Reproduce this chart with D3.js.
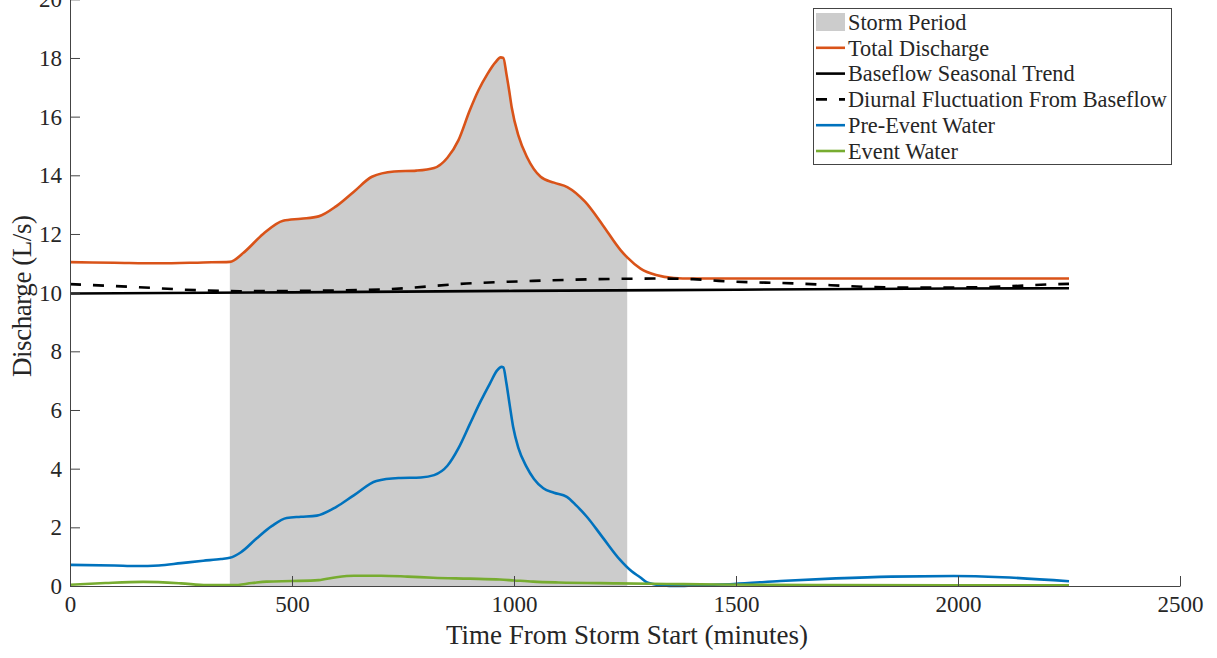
<!DOCTYPE html>
<html>
<head>
<meta charset="utf-8">
<script src="https://cdn.jsdelivr.net/npm/d3@7"></script>
<style>
  body { margin: 0; background: #fff; }
  svg { display: block; font-family: 'Liberation Serif', 'Times New Roman', serif; }
  svg text { font-family: 'Liberation Serif', 'Times New Roman', serif; }
</style>
</head>
<body>
<div id="vis"></div>
<script>
// minutes from storm start / discharge in L/s
var totalT = [0, 100, 200, 300, 360, 390, 435, 480, 520, 560, 600, 640, 680, 730, 780, 820, 850, 875, 900, 920, 940, 958, 970, 976, 983, 989, 995, 1010, 1030, 1060, 1090, 1120, 1160, 1200, 1240, 1255, 1285, 1320, 1360, 1400, 1500, 1750, 2000, 2250];
var totalQ = [11.04, 11.02, 11.0, 11.03, 11.05, 11.35, 12.0, 12.45, 12.52, 12.6, 12.95, 13.45, 13.95, 14.13, 14.16, 14.25, 14.6, 15.2, 16.2, 16.9, 17.45, 17.85, 18.02, 18.0, 17.45, 16.9, 16.3, 15.35, 14.6, 13.95, 13.75, 13.6, 13.1, 12.3, 11.45, 11.2, 10.82, 10.6, 10.5, 10.48, 10.48, 10.48, 10.48, 10.48];

var baseT = [0, 500, 1000, 1500, 2000, 2250];
var baseQ = [9.97, 10.01, 10.06, 10.1, 10.14, 10.15];

var diurnalT = [0, 150, 293, 383, 518, 705, 893, 1043, 1231, 1320, 1403, 1461, 1639, 1835, 1950, 2083, 2226, 2250];
var diurnalQ = [10.29, 10.19, 10.08, 10.05, 10.06, 10.11, 10.31, 10.4, 10.47, 10.48, 10.46, 10.4, 10.31, 10.18, 10.17, 10.2, 10.29, 10.3];

var preT = [0, 100, 150, 200, 250, 300, 340, 360, 385, 420, 455, 488, 520, 556, 600, 640, 690, 740, 790, 820, 850, 875, 900, 925, 946, 962, 972, 976, 983, 990, 998, 1010, 1028, 1045, 1066, 1090, 1119, 1140, 1164, 1200, 1239, 1265, 1284, 1300, 1330, 1370, 1420, 1495, 1600, 1725, 1850, 1990, 2100, 2250];
var preQ = [0.72, 0.7, 0.68, 0.7, 0.78, 0.86, 0.92, 0.96, 1.15, 1.62, 2.05, 2.32, 2.36, 2.4, 2.7, 3.1, 3.58, 3.68, 3.7, 3.78, 4.1, 4.7, 5.5, 6.3, 6.91, 7.35, 7.47, 7.45, 6.9, 6.2, 5.43, 4.7, 4.07, 3.65, 3.33, 3.18, 3.04, 2.75, 2.36, 1.65, 0.89, 0.5, 0.3, 0.12, 0.03, 0.0, 0.03, 0.07, 0.17, 0.26, 0.32, 0.34, 0.3, 0.16];

var eventT = [0, 80, 165, 250, 308, 367, 410, 443, 500, 560, 600, 640, 700, 760, 818, 900, 968, 1000, 1043, 1100, 1231, 1344, 1460, 1700, 1990, 2250];
var eventQ = [0.04, 0.1, 0.14, 0.09, 0.03, 0.03, 0.1, 0.15, 0.17, 0.2, 0.3, 0.35, 0.35, 0.32, 0.28, 0.25, 0.22, 0.19, 0.15, 0.12, 0.09, 0.07, 0.05, 0.03, 0.02, 0.02];

var stormStart = 360;
var stormEnd = 1255;

var xTicks = [0, 500, 1000, 1500, 2000, 2500];
var yTicks = [0, 2, 4, 6, 8, 10, 12, 14, 16, 18, 20];

var legendNames = ['Storm Period', 'Total Discharge', 'Baseflow Seasonal Trend', 'Diurnal Fluctuation From Baseflow', 'Pre-Event Water', 'Event Water'];

var width = 1217;
var height = 658;
var axisColor = '#444';
var textColor = '#262626';
var serif = "'Liberation Serif', 'Times New Roman', serif";

function pairs(ts, qs) {
  return ts.map(function (t, i) { return { t: t, q: qs[i] }; });
}

var svg = d3.select('#vis').append('svg')
  .attr('width', width)
  .attr('height', height);

var x = d3.scaleLinear().domain([0, 2500]).range([70, 1180]);
var y = d3.scaleLinear().domain([0, 20]).range([586, -0.7]);

var line = d3.line()
  .x(function (d) { return x(d.t); })
  .y(function (d) { return y(d.q); })
  .curve(d3.curveMonotoneX);

var totalData = pairs(totalT, totalQ);

// storm period: grey under the total discharge curve
var stormData = totalData.filter(function (d) { return d.t >= stormStart && d.t <= stormEnd; });
var area = d3.area()
  .x(function (d) { return x(d.t); })
  .y0(y(0))
  .y1(function (d) { return y(d.q); })
  .curve(d3.curveMonotoneX);

svg.append('path')
  .datum(stormData)
  .attr('d', area)
  .attr('fill', '#cccccc');

var series = [
  { data: totalData, color: '#D95319', dash: null },
  { data: pairs(baseT, baseQ), color: '#000', dash: null },
  { data: pairs(diurnalT, diurnalQ), color: '#000', dash: '11,12' },
  { data: pairs(preT, preQ), color: '#0072BD', dash: null },
  { data: pairs(eventT, eventQ), color: '#77AC30', dash: null }
];

series.forEach(function (s) {
  svg.append('path')
    .datum(s.data)
    .attr('d', line)
    .attr('fill', 'none')
    .attr('stroke', s.color)
    .attr('stroke-width', 2.6)
    .attr('stroke-dasharray', s.dash);
});

// axes (left and bottom only, ticks pointing in)
var xAxis = svg.append('g')
  .attr('transform', 'translate(0,' + y(0) + ')')
  .call(d3.axisBottom(x).tickValues(xTicks).tickFormat(d3.format('d')).tickSizeInner(-10).tickSizeOuter(0));

var yAxis = svg.append('g')
  .attr('transform', 'translate(' + x(0) + ',0)')
  .call(d3.axisLeft(y).tickValues(yTicks).tickFormat(d3.format('d')).tickSizeInner(-10).tickSizeOuter(0));

[xAxis, yAxis].forEach(function (ax) {
  ax.attr('font-family', serif).attr('font-size', 23);
  ax.select('.domain').attr('stroke', axisColor);
  ax.selectAll('.tick line').attr('stroke', axisColor);
  ax.selectAll('.tick text')
    .attr('fill', textColor)
    .attr('font-family', serif)
    .style('font-family', serif)
    .style('font-size', '23px');
});
yAxis.selectAll('.tick text').attr('x', -8);
xAxis.selectAll('.tick text').attr('y', 10).attr('dy', '0.71em');

svg.append('text')
  .attr('x', (x(0) + x(2500)) / 2 + 2)
  .attr('y', 644)
  .attr('text-anchor', 'middle')
  .attr('fill', textColor)
  .style('font-size', '27px')
  .text('Time From Storm Start (minutes)');

svg.append('text')
  .attr('transform', 'translate(31,' + 296 + ') rotate(-90)')
  .attr('text-anchor', 'middle')
  .attr('fill', textColor)
  .attr('textLength', 162)
  .attr('lengthAdjust', 'spacing')
  .style('font-size', '27px')
  .text('Discharge (L/s)');

// legend
var lg = svg.append('g').attr('transform', 'translate(813,8)');
lg.append('rect')
  .attr('x', 0.5).attr('y', 0.5)
  .attr('width', 358).attr('height', 156)
  .attr('fill', '#fff')
  .attr('stroke', axisColor);

var rowY = function (i) { return 14 + i * 25.8; };

lg.append('rect')
  .attr('x', 3).attr('y', rowY(0) - 9)
  .attr('width', 29).attr('height', 18)
  .attr('fill', '#cccccc');

series.forEach(function (s, i) {
  lg.append('line')
    .attr('x1', 3).attr('x2', 32)
    .attr('y1', rowY(i + 1)).attr('y2', rowY(i + 1))
    .attr('stroke', s.color)
    .attr('stroke-width', 2.6)
    .attr('stroke-dasharray', s.dash);
});

lg.selectAll('text.lbl')
  .data(legendNames)
  .enter()
  .append('text')
  .attr('class', 'lbl')
  .attr('x', 35)
  .attr('y', function (d, i) { return rowY(i); })
  .attr('dy', '0.35em')
  .attr('fill', textColor)
  .style('font-size', '22.3px')
  .text(function (d) { return d; });
</script>
</body>
</html>
